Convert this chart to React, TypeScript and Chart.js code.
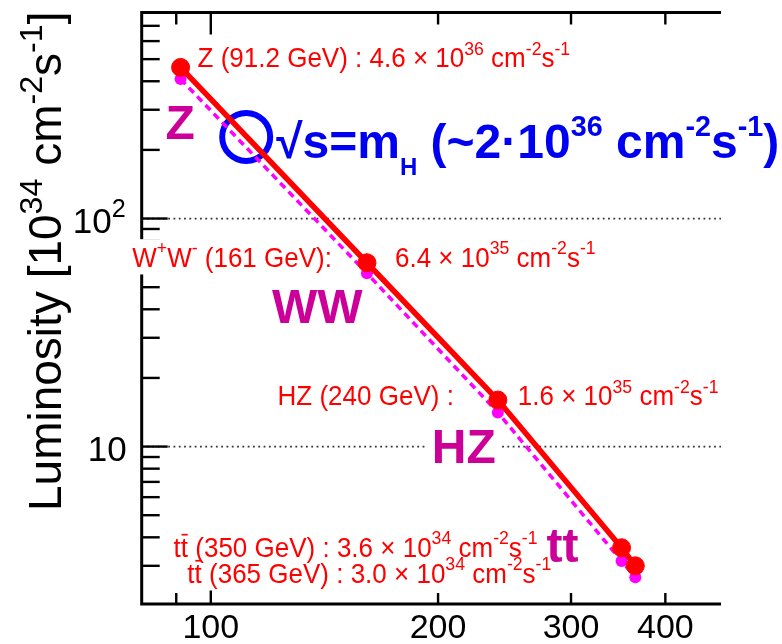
import React, { useEffect, useRef } from 'react';
import { Chart, registerables } from 'chart.js';

Chart.register(...registerables);

// Centre-of-mass energy of each running stage (GeV)
const energies = [91.2, 161, 240, 350, 365];
// Peak luminosity, baseline parameters (10^34 cm^-2 s^-1)
const lumiBaseline = [460, 64, 16, 3.6, 3.0];
// Peak luminosity, alternative parameters (dashed curve)
const lumiAlternative = [409, 57.5, 14.1, 3.15, 2.67];
// Highlighted operating point at sqrt(s) = m_H
const higgsEnergy = [111.4];
const higgsLumi = [228];

// Axis ranges and tick values
const xRange = [81, 474];
const yRange = [2.04, 800];
const xTickValues = [90, 100, 200, 300, 400];
const xTickLabels = ['', '100', '200', '300', '400'];
const yMajorTicks = [10, 100];
const yMajorExponents = ['', '2'];
const yMinorTicks = [3, 4, 5, 6, 7, 8, 9, 20, 30, 40, 50, 60, 70, 80, 90, 200, 300, 400, 500, 600, 700];

// Process tags written next to the curve
const processTags = ['Z', 'WW', 'HZ', 'tt'];
const processTagPoint = [0, 1, 2, 3];

const FONT = '"Liberation Sans", Arial, Helvetica, sans-serif';
const RED = 'rgb(255,0,0)';
const MAGENTA = 'rgb(255,0,255)';
const TAG = 'rgb(204,0,153)';
const BLUE = 'rgb(0,0,240)';

type Run = { t: string; k?: 'sup' | 'sub'; bar?: boolean };

interface RunOpts {
  size: number;
  color: string;
  weight?: string;
  align?: 'left' | 'right';
  sup?: number;
  sub?: number;
  rise?: number;
  drop?: number;
  bg?: boolean;
  only?: 'bg' | 'text';
  stretch?: number;
}

function drawRuns(ctx: CanvasRenderingContext2D, runs: Run[], x: number, y: number, o: RunOpts) {
  const weight = o.weight || 'normal';
  const supS = o.sup ?? 0.68;
  const subS = o.sub ?? 0.6;
  const rise = o.rise ?? 0.45;
  const drop = o.drop ?? 0.25;
  const k = o.stretch ?? 1;
  let w = 0;
  const parts = runs.map((r) => {
    const sz = r.k === 'sup' ? o.size * supS : r.k === 'sub' ? o.size * subS : o.size;
    ctx.font = `${weight} ${sz}px ${FONT}`;
    const pw = ctx.measureText(r.t).width;
    w += pw;
    return { r, sz, pw };
  });
  let cx = o.align === 'right' ? x - w : x;
  if (o.bg && o.only !== 'text') {
    ctx.fillStyle = '#fff';
    ctx.fillRect(cx - 4, y - o.size * 1.0 * k, w + 8, o.size * 1.28 * k);
  }
  if (o.only === 'bg') return w;
  ctx.save();
  ctx.translate(0, y);
  ctx.scale(1, k);
  ctx.fillStyle = o.color;
  ctx.strokeStyle = o.color;
  ctx.textAlign = 'left';
  ctx.textBaseline = 'alphabetic';
  for (const p of parts) {
    ctx.font = `${weight} ${p.sz}px ${FONT}`;
    const dy = p.r.k === 'sup' ? -o.size * rise : p.r.k === 'sub' ? o.size * drop : 0;
    ctx.fillText(p.r.t, cx, dy);
    if (p.r.bar) {
      const tw = ctx.measureText('t').width;
      ctx.lineWidth = 1.6;
      ctx.beginPath();
      ctx.moveTo(cx + tw * 0.1, -o.size * 0.8);
      ctx.lineTo(cx + tw * 0.95, -o.size * 0.8);
      ctx.stroke();
    }
    cx += p.pw;
  }
  ctx.restore();
  return w;
}

// "4.6 × 10^36 cm^-2 s^-1" from a value in units of 10^34
function lumiRuns(v: number): Run[] {
  const exp = Math.floor(Math.log10(v) + 1e-9);
  const mant = v / Math.pow(10, exp);
  return [
    { t: `${mant.toFixed(1)} × 10` },
    { t: `${exp + 34}`, k: 'sup' },
    { t: ' cm' },
    { t: '-2', k: 'sup' },
    { t: 's' },
    { t: '-1', k: 'sup' },
  ];
}
const gev = (i: number) => `(${energies[i]} GeV)`;
const ttbar = (): Run[] => [{ t: 't' }, { t: 't', bar: true }];

// Text annotations attached to the baseline points
const stageLabels: { i: number; dx: number; dy: number; align: 'left' | 'right'; runs: Run[] }[] = [
  { i: 0, dx: 17, dy: 0, align: 'left', runs: [{ t: `Z ${gev(0)} : ` }, ...lumiRuns(lumiBaseline[0])] },
  { i: 1, dx: -35, dy: 4, align: 'right', runs: [{ t: 'W' }, { t: '+', k: 'sup' }, { t: 'W' }, { t: '-', k: 'sup' }, { t: ` ${gev(1)}:` }] },
  { i: 1, dx: 28, dy: 4, align: 'left', runs: lumiRuns(lumiBaseline[1]) },
  { i: 2, dx: -44, dy: 5, align: 'right', runs: [{ t: `HZ ${gev(2)} :` }] },
  { i: 2, dx: 20, dy: 5, align: 'left', runs: lumiRuns(lumiBaseline[2]) },
  { i: 3, dx: -84, dy: 9, align: 'right', runs: [...ttbar(), { t: ` ${gev(3)} : ` }, ...lumiRuns(lumiBaseline[3])] },
  { i: 4, dx: -84, dy: 17, align: 'right', runs: [...ttbar(), { t: ` ${gev(4)} : ` }, ...lumiRuns(lumiBaseline[4])] },
];
// offsets of the big process tags from their point
const tagOffsets = [
  [-15, 72],
  [-95, 60],
  [-66, 63],
  [-75, 14],
];

const framePlugin = {
  id: 'rootFrame',
  beforeDatasetsDraw(chart: any) {
    const { ctx, chartArea: a, scales } = chart;
    const xs = scales.x;
    const ys = scales.y;
    ctx.save();

    // dotted horizontal grid at the decades
    ctx.strokeStyle = '#333';
    ctx.lineWidth = 1.8;
    ctx.setLineDash([1.8, 3.5]);
    for (const v of yMajorTicks) {
      const py = ys.getPixelForValue(v);
      ctx.beginPath();
      ctx.moveTo(a.left, py);
      ctx.lineTo(a.right, py);
      ctx.stroke();
    }
    ctx.setLineDash([]);

    // ticks (pointing into the frame)
    ctx.strokeStyle = '#000';
    ctx.lineWidth = 2.4;
    xTickValues.forEach((v) => {
      const px = xs.getPixelForValue(v);
      const major = v === 100;
      ctx.beginPath();
      ctx.moveTo(px, a.bottom);
      ctx.lineTo(px, a.bottom - (major ? 20 : 11));
      ctx.moveTo(px, a.top);
      ctx.lineTo(px, a.top + (major ? 22 : 12));
      ctx.stroke();
    });
    const yTick = (v: number, len: number) => {
      const py = ys.getPixelForValue(v);
      ctx.beginPath();
      ctx.moveTo(a.left, py);
      ctx.lineTo(a.left + len, py);
      ctx.stroke();
    };
    yMinorTicks.forEach((v) => yTick(v, 18));
    yMajorTicks.forEach((v) => yTick(v, 26));

    // frame
    ctx.lineWidth = 3;
    ctx.beginPath();
    ctx.moveTo(a.right, a.top);
    ctx.lineTo(a.left, a.top);
    ctx.lineTo(a.left, a.bottom);
    ctx.lineTo(a.right, a.bottom);
    ctx.stroke();

    // tick labels
    ctx.fillStyle = '#000';
    ctx.font = `34px ${FONT}`;
    ctx.textAlign = 'center';
    ctx.textBaseline = 'alphabetic';
    xTickValues.forEach((v, i) => {
      if (!xTickLabels[i]) return;
      ctx.fillText(xTickLabels[i], xs.getPixelForValue(v), a.bottom + 34);
    });
    yMajorTicks.forEach((v, i) => {
      const py = ys.getPixelForValue(v);
      const runs: Run[] = [{ t: '10' }];
      if (yMajorExponents[i]) runs.push({ t: yMajorExponents[i], k: 'sup' });
      drawRuns(ctx, runs, a.left - (yMajorExponents[i] ? 16 : 15), py + 14, { size: 35, color: '#000', align: 'right', sup: 0.72, rise: 0.45 });
    });

    // axis title
    ctx.save();
    ctx.translate(61, 511);
    ctx.rotate(-Math.PI / 2);
    drawRuns(
      ctx,
      [{ t: 'Luminosity [10' }, { t: '34', k: 'sup' }, { t: ' cm' }, { t: '-2', k: 'sup' }, { t: 's' }, { t: '-1', k: 'sup' }, { t: ']' }],
      0,
      0,
      { size: 46, color: '#000', sup: 0.7, rise: 0.42 }
    );
    ctx.restore();

    // value labels next to the baseline points: white boxes first, then text
    const labelPass = (only: 'bg' | 'text') =>
      stageLabels.forEach((l) => {
        const px = xs.getPixelForValue(energies[l.i]);
        const py = ys.getPixelForValue(lumiBaseline[l.i]);
        drawRuns(ctx, l.runs, px + l.dx, py + l.dy, { size: 26, color: RED, align: l.align, bg: true, only, stretch: 1.06 });
      });
    labelPass('bg');
    labelPass('text');

    // process tags
    processTags.forEach((tag, k) => {
      const i = processTagPoint[k];
      const px = xs.getPixelForValue(energies[i]) + tagOffsets[k][0];
      const py = ys.getPixelForValue(lumiBaseline[i]) + tagOffsets[k][1];
      drawRuns(ctx, [{ t: tag }], px, py, { size: 48, weight: 'bold', color: TAG, bg: tag === 'HZ' });
    });

    // sqrt(s) = m_H annotation
    const hx = xs.getPixelForValue(higgsEnergy[0]);
    const hy = ys.getPixelForValue(higgsLumi[0]);
    drawRuns(
      ctx,
      [
        { t: '√s=m' },
        { t: 'H', k: 'sub' },
        { t: ' (~2·10' },
        { t: '36', k: 'sup' },
        { t: ' cm' },
        { t: '-2', k: 'sup' },
        { t: 's' },
        { t: '-1', k: 'sup' },
        { t: ')' },
      ],
      hx + 30,
      hy + 21,
      { size: 48, weight: 'bold', color: BLUE, sup: 0.6, sub: 0.5, rise: 0.45, drop: 0.35 }
    );

    ctx.restore();
  },
};

export default function App() {
  const ref = useRef<HTMLCanvasElement | null>(null);

  useEffect(() => {
    if (!ref.current) return;
    const toXY = (xs: number[], ys: number[]) => xs.map((x, i) => ({ x, y: ys[i] }));
    const chart = new Chart(ref.current, {
      type: 'scatter',
      data: {
        datasets: [
          {
            data: toXY(energies, lumiBaseline),
            showLine: true,
            borderColor: RED,
            borderWidth: 5.5,
            pointRadius: 9,
            pointBackgroundColor: RED,
            pointBorderColor: RED,
            pointBorderWidth: 1,
          },
          {
            data: toXY(energies, lumiAlternative),
            showLine: true,
            borderColor: MAGENTA,
            borderWidth: 3.5,
            borderDash: [7, 5],
            pointRadius: 6,
            pointBackgroundColor: MAGENTA,
            pointBorderColor: MAGENTA,
            pointBorderWidth: 0,
          },
          {
            data: toXY(higgsEnergy, higgsLumi),
            showLine: false,
            pointRadius: 24,
            pointBorderWidth: 6,
            pointBorderColor: 'rgb(0,0,255)',
            pointBackgroundColor: 'rgba(0,0,0,0)',
          },
        ],
      },
      options: {
        responsive: false,
        animation: false,
        devicePixelRatio: 1,
        events: [],
        layout: { autoPadding: false, padding: { left: 141.7, top: 12.6, right: 61, bottom: 40 } },
        plugins: { legend: { display: false }, tooltip: { enabled: false } },
        scales: {
          x: { type: 'logarithmic', min: xRange[0], max: xRange[1], display: false },
          y: { type: 'logarithmic', min: yRange[0], max: yRange[1], display: false },
        },
      },
      plugins: [framePlugin],
    });
    return () => chart.destroy();
  }, []);

  return (
    <div style={{ position: 'absolute', left: 0, top: 0, width: 782, height: 644, background: '#fff' }}>
      <canvas ref={ref} width={782} height={644} style={{ display: 'block' }} />
    </div>
  );
}
